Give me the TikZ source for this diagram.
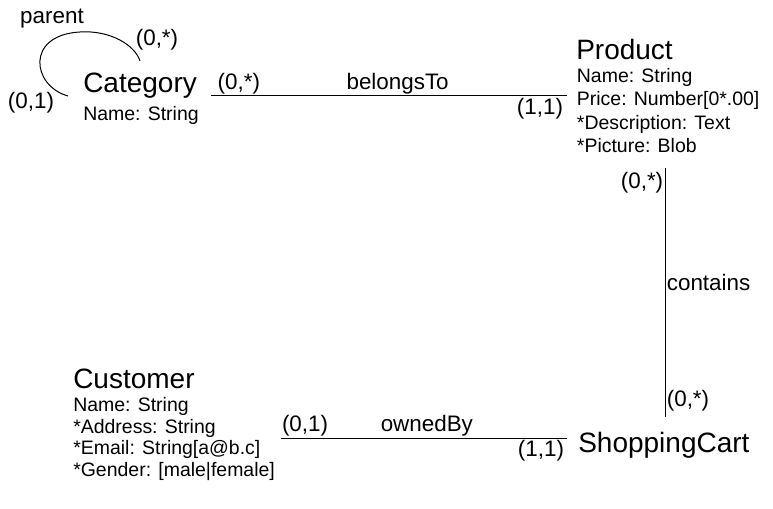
\documentclass[tikz,border=0pt]{standalone}
\usepackage{fontspec}
\setmainfont{Liberation Sans}
\usetikzlibrary{positioning,calc}
\tikzstyle{entity} = [anchor=base west, inner sep=0pt, font=\fontsize{21}{24}\selectfont]
\tikzstyle{attrs} = [align=left, inner sep=0pt, font=\fontsize{14.6}{16.1}\selectfont]
\tikzstyle{rel} = [line width=0.75pt]

\begin{document}
\begin{tikzpicture}[x=0.75pt, y=-0.75pt,
    card/.style={font=\fontsize{16.8}{19}\selectfont, inner sep=1pt}]
    \useasboundingbox (0,0) rectangle (773,509);

    % Entities
    \node[entity] (category) at (83,93) {Category};
    \node[attrs, below right=9.5pt and 0pt of category.base west] (categoryattr) {Name: String};
    \node[entity] (product) at (576,60) {Product};
    \node[attrs, font=\fontsize{14.6}{17.6}\selectfont,
        below right=6pt and 0.5pt of product.base west] (productattr)
        {Name: String\\Price: Number[0*.00]\\*Description: Text\\*Picture: Blob};
    \node[entity] (customer) at (73,388) {Customer};
    \node[attrs, below right=7pt and 0pt of customer.base west] (customerattr)
        {Name: String\\*Address: String\\*Email: String[a@b.c]\\*Gender: [male|female]};
    \node[entity] (cart) at (578,452) {ShoppingCart};

    % Connector ends
    \coordinate (belongsA) at ($(category.base east)+(14,3)$);
    \coordinate (belongsB) at ($(product.west |- belongsA)+(-9,0)$);
    \coordinate (containsA) at (665,168);
    \coordinate (containsB) at (665,417);
    \coordinate (ownedA) at (281,438);
    \coordinate (ownedB) at ($(cart.base west)+(-11,-14)$);
    \coordinate (loopA) at ($(category.base west)+(-15,3)$);
    \coordinate (loopTop) at (80,32);
    \coordinate (loopB) at (140,61);

    % Relationships
    \draw[rel] (belongsA) -- node[card, pos=0.078, above]{(0,*)}
        node[card, pos=0.524, above]{belongsTo}
        node[card, pos=0.924, below]{(1,1)} (belongsB);
    \draw[rel] (containsA) -- node[card, pos=0.06, left]{(0,*)}
        node[card, pos=0.458, right]{contains}
        node[card, pos=0.936, right]{(0,*)} (containsB);
    \draw[rel] (ownedA) -- node[card, pos=0.084, above]{(0,1)}
        node[card, pos=0.51, above]{ownedBy}
        node[card, pos=0.909, below]{(1,1)} (ownedB);
    \draw[rel] (loopA) .. controls (32,86) and (25,35) .. (loopTop)
        .. controls (110,30) and (135,45) .. (loopB);
    \node[card] (loopmin) at (31,103) {(0,1)};
    \node[card] (loopmax) at (157,40) {(0,*)};
    \node[card] (loopname) at (52,19) {parent};
\end{tikzpicture}
\end{document}
